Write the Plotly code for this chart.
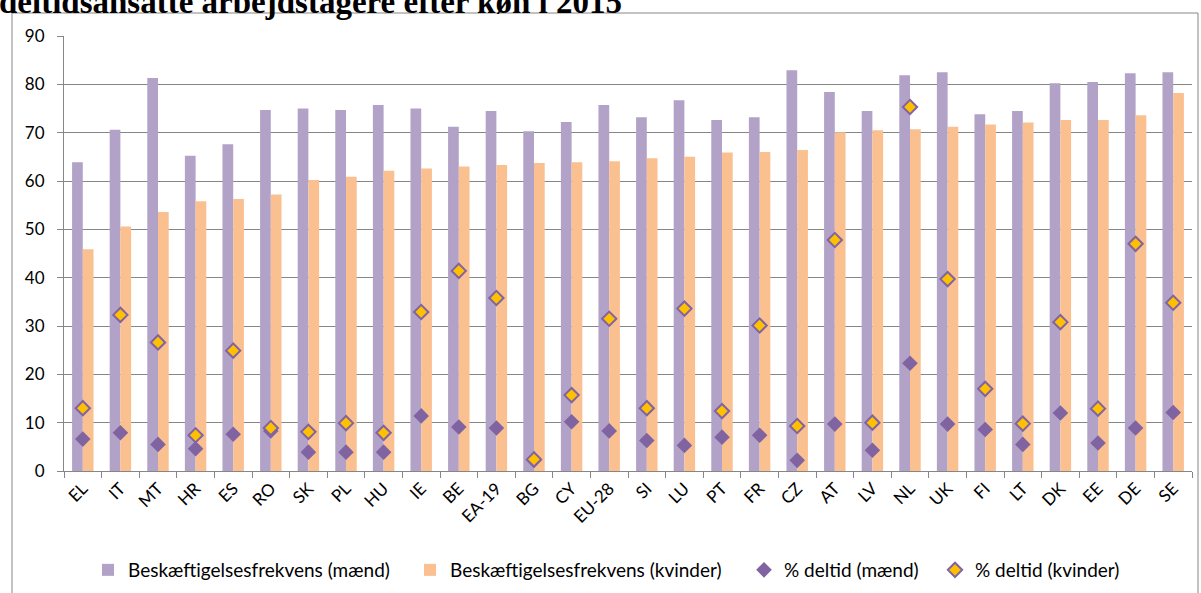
import plotly.graph_objects as go

countries = ["EL", "IT", "MT", "HR", "ES", "RO", "SK", "PL", "HU", "IE", "BE", "EA-19", "BG", "CY",
             "EU-28", "SI", "LU", "PT", "FR", "CZ", "AT", "LV", "NL", "UK", "FI", "LT", "DK", "EE", "DE", "SE"]

emp_men = [63.9, 70.6, 81.3, 65.2, 67.6, 74.7, 75.0, 74.7, 75.7, 75.0, 71.2, 74.5, 70.3, 72.2,
           75.7, 73.2, 76.7, 72.6, 73.2, 82.9, 78.4, 74.5, 81.9, 82.5, 73.8, 74.5, 80.2, 80.5, 82.3, 82.5]
emp_women = [45.9, 50.6, 53.6, 55.8, 56.3, 57.2, 60.2, 60.9, 62.1, 62.6, 63.0, 63.3, 63.7, 63.9,
             64.1, 64.7, 65.0, 65.9, 66.0, 66.4, 70.1, 70.5, 70.7, 71.2, 71.7, 72.1, 72.6, 72.6, 73.6, 78.2]
pt_men = [6.6, 7.9, 5.5, 4.6, 7.6, 8.3, 3.9, 3.9, 3.9, 11.4, 9.1, 8.9, 2.2, 10.2,
          8.3, 6.3, 5.3, 7.0, 7.4, 2.2, 9.7, 4.3, 22.3, 9.7, 8.6, 5.5, 12.0, 5.8, 8.9, 12.1]
pt_women = [13.0, 32.3, 26.6, 7.4, 24.9, 8.9, 8.1, 9.9, 7.9, 32.9, 41.4, 35.8, 2.4, 15.7,
            31.5, 13.0, 33.6, 12.4, 30.1, 9.3, 47.8, 10.0, 75.3, 39.7, 17.0, 9.8, 30.8, 12.9, 47.0, 34.8]

y_ticks = [0, 10, 20, 30, 40, 50, 60, 70, 80, 90]
series_names = ["Beskæftigelsesfrekvens (mænd)", "Beskæftigelsesfrekvens (kvinder)",
                "% deltid (mænd)", "% deltid (kvinder)"]
title_text = "deltidsansatte arbejdstagere efter køn i 2015"

W, H = 1201, 593
L, R, T, B = 64, 9, 36, 122
PW, PH = W - L - R, H - T - B


def px(x):
    return (x - L) / PW


def py(y):
    return (H - B - y) / PH


C_MEN = "#B3A2C7"
C_WOMEN = "#FAC090"
C_DIAM = "#8064A2"
C_YEL = "#FFC000"
FONT = "Lato"

fig = go.Figure()
fig.add_trace(go.Bar(x=countries, y=emp_men, name=series_names[0], legend="legend",
                     marker=dict(color=C_MEN, line=dict(width=0))))
fig.add_trace(go.Bar(x=countries, y=emp_women, name=series_names[1], legend="legend2",
                     marker=dict(color=C_WOMEN, line=dict(width=0))))
fig.add_trace(go.Scatter(x=countries, y=pt_men, name=series_names[2], mode="markers",
                         legend="legend3",
                         marker=dict(symbol="diamond", size=12, color=C_DIAM,
                                     line=dict(width=0))))
fig.add_trace(go.Scatter(x=countries, y=pt_women, name=series_names[3], mode="markers",
                         legend="legend4",
                         marker=dict(symbol="diamond", size=11, color=C_YEL,
                                     line=dict(width=2, color=C_DIAM))))

leg_font = dict(family=FONT, size=19, color="#000000")


def leg(x_text):
    return dict(orientation="h", x=px(x_text - 40), xanchor="left", y=py(570),
                yanchor="middle", font=leg_font, bgcolor="rgba(0,0,0,0)",
                itemwidth=30)


fig.update_layout(
    template="none",
    width=W, height=H,
    margin=dict(l=L, r=R, t=T, b=B, pad=0, autoexpand=False),
    paper_bgcolor="white", plot_bgcolor="white",
    barmode="group", bargap=0.43, bargroupgap=0,
    font=dict(family=FONT, size=16, color="#000000"),
    showlegend=True,
    legend=leg(128), legend2=leg(450), legend3=leg(784), legend4=leg(975),
    xaxis=dict(type="category", range=[-0.5, len(countries) - 0.5], automargin=False,
               tickson="boundaries", ticks="outside", ticklen=6, tickcolor="#868686",
               showline=True, linecolor="#868686", linewidth=1,
               showgrid=False, tickangle=-45,
               tickfont=dict(family=FONT, size=17, color="#000000")),
    yaxis=dict(range=[0, 90], tickvals=y_ticks, ticks="outside", ticklen=6, automargin=False,
               tickcolor="#868686", showline=True, linecolor="#868686", linewidth=1,
               showgrid=True, gridcolor="#868686", gridwidth=1, zeroline=False,
               ticklabelstandoff=9,
               tickfont=dict(family=FONT, size=17, color="#000000")),
    shapes=[dict(type="rect", xref="paper", yref="paper",
                 x0=px(12), x1=px(1198), y0=py(13), y1=py(620),
                 line=dict(color="#868686", width=1), fillcolor="rgba(0,0,0,0)", layer="below")],
    annotations=[dict(text="<b>" + title_text + "</b>", xref="paper", yref="paper",
                      x=px(-3), xanchor="left", y=py(2), yanchor="middle", showarrow=False,
                      font=dict(family="Liberation Serif", size=33, color="#000000"))],
)

fig.write_html("out.html", config={"displayModeBar": False},
               post_script="document.body.style.margin='0';document.body.style.overflow='hidden';")
